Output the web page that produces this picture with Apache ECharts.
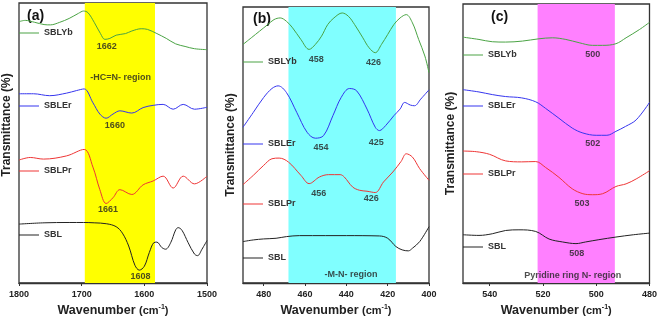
<!DOCTYPE html>
<html>
<head>
<meta charset="utf-8">
<script src="https://cdn.jsdelivr.net/npm/echarts@6/dist/echarts.min.js"></script>
<style>
  html, body { margin: 0; padding: 0; background: #fff; }
  #main { width: 660px; height: 322px; }
</style>
</head>
<body>
<div id="main"></div>
<script>
// spectra are [wavenumber, offset transmittance] (arbitrary units)

// panel (a) 1800-1500
const aYb = [[1800,812],[1790,816],[1775,810],[1760,803],[1750,802],[1735,810],[1720,822],[1705,838],[1697,845],[1690,840],[1680,810],[1670,775],[1663,757],[1655,760],[1645,770],[1630,775],[1620,783],[1605,790],[1595,788],[1580,775],[1565,760],[1550,743],[1535,735],[1520,728],[1500,725]];
const aEr = [[1800,588],[1777,588],[1751,582],[1724,590],[1708,598],[1696,603],[1682,560],[1671,525],[1661,512],[1650,525],[1639,535],[1620,528],[1602,545],[1586,552],[1570,555],[1554,540],[1538,555],[1520,540],[1500,546]];
const aPr = [[1800,382],[1782,390],[1761,385],[1724,395],[1696,415],[1682,360],[1671,290],[1661,247],[1650,265],[1639,290],[1620,275],[1602,305],[1586,317],[1570,332],[1554,295],[1538,332],[1520,308],[1500,332]];
const aSBL = [[1800,183],[1760,187],[1720,188],[1697,188],[1680,187],[1660,184],[1645,175],[1635,155],[1625,115],[1615,55],[1608,40],[1600,52],[1592,95],[1585,125],[1580,127],[1572,110],[1566,105],[1558,125],[1550,165],[1546,172],[1540,164],[1530,125],[1520,90],[1515,85],[1508,105],[1500,132]];
const aNotes = [[1660,735,'1662'],[1647,490,'1660'],[1658,227,'1661'],[1606,20,'1608'],[1638,637,'-HC=N- region']];
const aBand = [1695, 1583];

// panel (b) 490-400
const bYb = [[490,720],[486,740],[482,760],[478,780],[475,795],[472,800],[469,790],[466,770],[462,735],[458,705],[455,720],[452,745],[449,780],[446,800],[442,815],[439,805],[436,780],[432,740],[429,710],[426,695],[423,720],[420,750],[417,780],[414,800],[411,810],[408,785],[405,735],[402,685],[400,635]];
const bEr = [[490,470],[485,515],[480,560],[476,587],[473,595],[469,575],[464,515],[459,455],[455,437],[451,445],[446.5,505],[442.5,560],[438.5,587],[435,580],[430,525],[426,470],[424,460],[421,475],[417,505],[414,525],[411.8,545],[409,537],[407,535],[404,555],[400,583]];
const bPr = [[490,297],[485,325],[480,355],[476,375],[472.5,377],[468,365],[462,325],[458,300],[453,320],[448.6,327],[443,327],[441,320],[437,290],[433.7,280],[430,277],[426,273],[422,305],[417.5,335],[413.5,367],[411,390],[408,380],[404.5,345],[400,310]];
const bSBL = [[490,125],[485,130],[480,133],[474,135],[469,140],[462.7,143],[450,143],[440,143],[424,142],[420,135],[416,110],[413,100],[410,97],[408,105],[404.5,125],[400,170]];
const bNotes = [[454.6,675,'458'],[426.8,665,'426'],[452.2,410,'454'],[425.5,425,'425'],[453.3,270,'456'],[428,255,'426'],[437.7,27,'-M-N- region']];
const bBand = [468, 416];

// panel (c) 550-480
const cYb = [[550,749],[544,742],[539,735],[534,734],[527.7,737],[521.5,744],[516.4,747],[511.4,742],[506.4,732],[501.4,724],[497.6,724],[492.6,729],[488.8,747],[483.8,772],[480,794]];
const cEr = [[550,589],[544,582],[539,574],[534,568],[528,564],[522.7,552],[519,532],[514,502],[509,472],[505,457],[500,450],[496,450],[492.6,462],[489,477],[485,497],[480,550]];
const cPr = [[550,402],[545,400],[540,392],[534,372],[528,369],[522.7,370],[519,352],[514,322],[509,287],[505,272],[501.4,269],[497.6,272],[492.6,294],[488.8,302],[485,317],[480,342]];
const cSBL = [[550,147],[544,145],[539,150],[534,160],[529,162],[522.7,157],[517.7,134],[512.6,125],[507.6,120],[504,125],[499,132],[492.6,140],[486,147],[480,152]];
const cNotes = [[501.3,697,'500'],[501.3,425,'502'],[505.3,242,'503'],[507.3,90,'508'],[508.8,22,'Pyridine ring N- region']];
const cBand = [522, 493];

const names = ['SBLYb', 'SBLEr', 'SBLPr', 'SBL'];
const colors = ['#4aa344', '#3535ee', '#ee3535', '#222222'];

const font = 'Liberation Sans';
const dark = '#222';

const panels = [
  { grid: { left: 19, top: 3, width: 188, height: 284 }, min: 1500, max: 1800, interval: 100, ymax: 870,
    lines: [aYb, aEr, aPr, aSBL], notes: aNotes, band: aBand, bandColor: '#ffff00',
    legendCenters: [33, 106, 171, 235], tag: '(a)', tagPos: [27, 9] },
  { grid: { left: 243, top: 7, width: 186, height: 277 }, min: 400, max: 490, interval: 20, ymax: 833,
    lines: [bYb, bEr, bPr, bSBL], notes: bNotes, band: bBand, bandColor: '#80ffff',
    legendCenters: [62, 144, 204, 258], tag: '(b)', tagPos: [253, 12] },
  { grid: { left: 463, top: 4, width: 188, height: 283 }, min: 480, max: 550, interval: 20, ymax: 850,
    lines: [cYb, cEr, cPr, cSBL], notes: cNotes, band: cBand, bandColor: '#ff80ff',
    legendCenters: [55, 106, 174, 247], tag: '(c)', tagPos: [491, 10] }
];

const option = {
  animation: false,
  color: colors,
  textStyle: { fontFamily: font },
  grid: [], xAxis: [], yAxis: [], series: [], legend: [], graphic: []
};

panels.forEach(function (p, i) {
  option.grid.push(Object.assign({ show: true, borderColor: '#333', borderWidth: 1.3, backgroundColor: 'transparent' }, p.grid));
  option.xAxis.push({
    gridIndex: i, type: 'value', min: p.min, max: p.max, interval: p.interval, inverse: true,
    name: 'Wavenumber {p|(cm}{s|-1}{p|)}', nameLocation: 'middle', nameGap: 21,
    nameTextStyle: {
      fontSize: 12.5, fontWeight: 'bold', color: dark, fontFamily: font,
      rich: {
        p: { fontSize: 11, color: dark, fontFamily: font },
        s: { fontSize: 7, fontWeight: 'bold', color: dark, fontFamily: font, verticalAlign: 'top', padding: [0, 0, 6, 0] }
      }
    },
    axisLine: { show: true, onZero: false, lineStyle: { color: '#333', width: 1.3 } },
    axisTick: { show: true, length: 3, lineStyle: { color: '#333' } },
    axisLabel: { fontSize: 9, fontWeight: 'bold', color: dark, margin: 7, showMaxLabel: i === 0,
      formatter: function (v) { return String(v); } },
    splitLine: { show: false }
  });
  option.yAxis.push({
    gridIndex: i, type: 'value', min: 0, max: p.ymax,
    name: 'Transmittance (%)', nameLocation: 'middle', nameGap: 6,
    nameTextStyle: { fontSize: 12, fontWeight: 'bold', color: dark, padding: [0, 0, 0, i === 0 ? 36 : 0] },
    axisLine: { show: false }, axisTick: { show: false }, axisLabel: { show: false }, splitLine: { show: false }
  });
  // shaded region
  option.series.push({
    type: 'line', xAxisIndex: i, yAxisIndex: i, data: [], z: 1, silent: true,
    markArea: { silent: true, itemStyle: { color: p.bandColor, opacity: 1 }, data: [[{ xAxis: p.band[0] }, { xAxis: p.band[1] }]] }
  });
  p.lines.forEach(function (d, k) {
    option.series.push({
      name: names[k], type: 'line', xAxisIndex: i, yAxisIndex: i, data: d, z: 3,
      smooth: 0.35, symbol: 'none', lineStyle: { width: 1, color: colors[k] }, itemStyle: { color: colors[k] }
    });
    option.legend.push({
      data: [names[k]], left: p.grid.left, top: p.legendCenters[k] - 6, padding: 0,
      icon: 'rect', itemWidth: 20, itemHeight: 1, itemGap: 0, selectedMode: false,
      textStyle: { fontSize: 9, fontWeight: 'bold', color: '#333', fontFamily: font, lineHeight: 12 }
    });
  });
  option.series.push({
    type: 'scatter', xAxisIndex: i, yAxisIndex: i, data: p.notes, symbolSize: 0, z: 4, silent: true,
    label: { show: true, position: 'inside', formatter: function (q) { return q.value[2]; },
      fontSize: 9, fontWeight: 'bold', color: dark, fontFamily: font }
  });
  option.graphic.push({
    type: 'text', left: p.tagPos[0], top: p.tagPos[1],
    style: { text: p.tag, font: 'bold 14px ' + font, fill: '#111' }
  });
});

const chart = echarts.init(document.getElementById('main'));
chart.setOption(option);
</script>
</body>
</html>
